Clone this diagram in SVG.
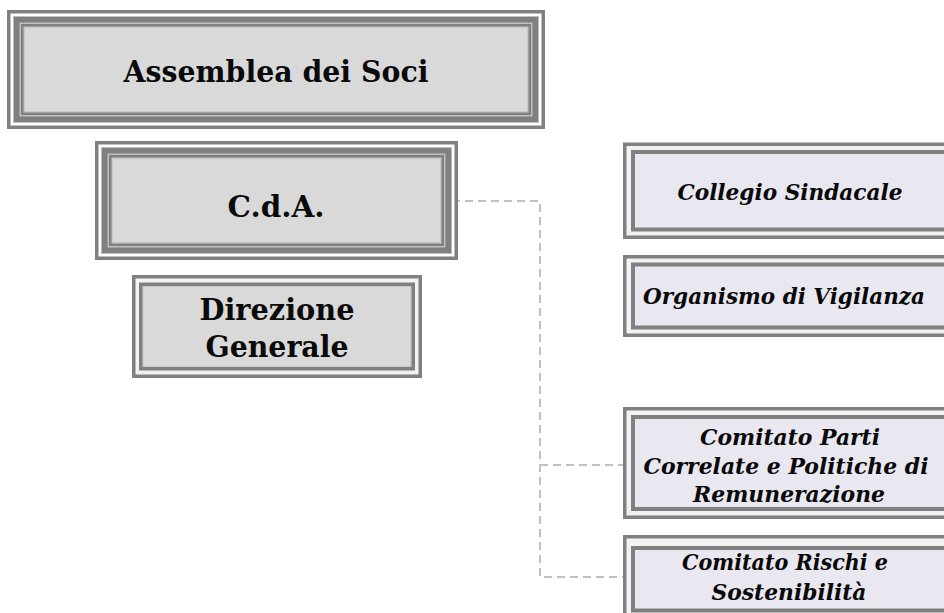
<svg xmlns="http://www.w3.org/2000/svg" width="944" height="613" viewBox="0 0 944 613">
<style>
.d{fill:#808080}
.w{fill:#ffffff}
.lw{fill:#f2f2f2}
.lg{fill:#bfbfbf}
.lc{fill:#c8c8c8}
.fl{fill:#d9d9d9}
.fr{fill:#e9e7ef}
.tl{font-family:"DejaVu Serif","Liberation Serif",serif;font-weight:bold;font-size:30px;fill:#0a0a0a;text-anchor:middle}
.tr{font-family:"DejaVu Serif","Liberation Serif",serif;font-weight:bold;font-style:italic;font-size:23px;fill:#0a0a0a;text-anchor:middle}
.con{fill:none;stroke:#c0c0c0;stroke-width:2;stroke-dasharray:8 5}
</style>
<rect width="944" height="613" fill="#ffffff"/>

<g id="connectors">
<path class="con" d="M452,201 H540 V577 H623"/>
<path class="con" d="M540,465 H623"/>
</g>

<g id="assemblea">
<rect class="d" x="7" y="10" width="538" height="119"/>
<rect class="w" x="10.5" y="13.5" width="531" height="112"/>
<rect class="lg" x="13" y="16" width="526" height="107"/>
<rect class="d" x="14" y="17" width="524" height="105"/>
<rect class="lg" x="19.5" y="22.5" width="513" height="94"/>
<rect class="d" x="21" y="24" width="510" height="91"/>
<rect class="lc" x="23.5" y="26.5" width="505" height="86"/>
<rect class="fl" x="25" y="28" width="502" height="83"/>
<text class="tl" x="276" y="82" textLength="305" lengthAdjust="spacingAndGlyphs">Assemblea dei Soci</text>
</g>

<g id="cda">
<rect class="d" x="95" y="141" width="363" height="119"/>
<rect class="w" x="98.5" y="144.5" width="356" height="112"/>
<rect class="lg" x="101" y="147" width="351" height="107"/>
<rect class="d" x="102" y="148" width="349" height="105"/>
<rect class="lg" x="107.5" y="153.5" width="338" height="94"/>
<rect class="d" x="109" y="155" width="335" height="91"/>
<rect class="lc" x="111.5" y="157.5" width="330" height="86"/>
<rect class="fl" x="113" y="159" width="327" height="83"/>
<text class="tl" x="276" y="217" textLength="97" lengthAdjust="spacingAndGlyphs">C.d.A.</text>
</g>

<g id="direzione">
<rect class="d" x="132" y="275" width="290" height="103"/>
<rect class="lw" x="135.5" y="278.5" width="283" height="96"/>
<rect class="d" x="139" y="282.5" width="276" height="88"/>
<rect class="lc" x="142.5" y="286" width="269" height="81"/>
<rect class="fl" x="143.5" y="287" width="267" height="79"/>
<text class="tl" x="277" y="320" textLength="155" lengthAdjust="spacingAndGlyphs">Direzione</text>
<text class="tl" x="277" y="357" textLength="143" lengthAdjust="spacingAndGlyphs">Generale</text>
</g>

<g id="collegio">
<rect class="d" x="623" y="142.5" width="340" height="96.5"/>
<rect class="lw" x="626.5" y="146" width="333" height="89.5"/>
<rect class="d" x="631" y="150" width="324" height="81.5"/>
<rect class="fr" x="635" y="154" width="316" height="73.5"/>
<text class="tr" x="790" y="200" textLength="225" lengthAdjust="spacingAndGlyphs">Collegio Sindacale</text>
</g>

<g id="organismo">
<rect class="d" x="623" y="255" width="340" height="82"/>
<rect class="lw" x="626.5" y="258.5" width="333" height="75"/>
<rect class="d" x="631" y="262.5" width="324" height="67"/>
<rect class="fr" x="635" y="266.5" width="316" height="59"/>
<text class="tr" x="784" y="304" textLength="282" lengthAdjust="spacingAndGlyphs">Organismo di Vigilanza</text>
</g>

<g id="comitato-parti">
<rect class="d" x="623" y="407" width="340" height="112"/>
<rect class="lw" x="626.5" y="410.5" width="333" height="105"/>
<rect class="d" x="631" y="415" width="324" height="96"/>
<rect class="fr" x="635" y="419" width="316" height="88"/>
<text class="tr" x="790" y="445" textLength="180" lengthAdjust="spacingAndGlyphs">Comitato Parti</text>
<text class="tr" x="786" y="474" textLength="285" lengthAdjust="spacingAndGlyphs">Correlate e Politiche di</text>
<text class="tr" x="789" y="502" textLength="192" lengthAdjust="spacingAndGlyphs">Remunerazione</text>
</g>

<g id="comitato-rischi">
<rect class="d" x="623" y="535" width="340" height="90"/>
<rect class="lw" x="626.5" y="538.5" width="333" height="83"/>
<rect class="d" x="631" y="546" width="324" height="66.5"/>
<rect class="fr" x="635" y="550" width="316" height="58.5"/>
<text class="tr" x="785" y="570" textLength="206" lengthAdjust="spacingAndGlyphs">Comitato Rischi e</text>
<text class="tr" x="789" y="600" textLength="155" lengthAdjust="spacingAndGlyphs">Sostenibilità</text>
</g>
</svg>
